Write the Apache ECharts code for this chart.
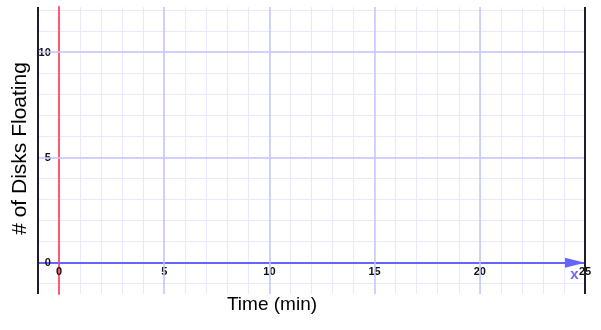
<!DOCTYPE html>
<html>
<head>
<meta charset="utf-8">
<script src="https://cdn.jsdelivr.net/npm/echarts@6/dist/echarts.min.js"></script>
<style>html,body{margin:0;padding:0;background:#fff}#c{width:601px;height:330px}</style>
</head>
<body>
<div id="c"></div>
<script>
// Data
const xRange = [-1, 25];          // time (min)
const yRangeOuter = [-1.5, 12.15]; // full plot frame
const yRangeGrid = [-1, 12];       // grid lines
const xLabelValues = [0, 5, 10, 15, 20, 25];
const yLabelValues = [0, 5, 10];
const xMajorLines = [5, 10, 15, 20];
const yMajorLines = [5, 10];
const seriesPoints = []; // no data plotted
const axisMarker = [[24.5, -0.6]]; // blue "x" marker
const xTitle = 'Time (min)';
const yTitle = '# of Disks Floating';

const minor = '#e8e8ff', major = '#c4c4ff';
const chart = echarts.init(document.getElementById('c'), null, {renderer: 'canvas'});
chart.setOption({
  animation: false,
  backgroundColor: '#fff',
  textStyle: {fontFamily: 'Liberation Sans, Arial, sans-serif'},
  grid: [
    {left: 38, right: 16, top: 7, bottom: 36, containLabel: false, outerBoundsMode: 'none'},
    {left: 38, right: 16, top: 10.7, bottom: 46.3, containLabel: false, outerBoundsMode: 'none'}
  ],
  xAxis: [
    {
      gridIndex: 0, type: 'value', min: xRange[0], max: xRange[1], interval: 1,
      position: 'bottom', offset: -31.3,
      axisLine: {show: true, onZero: false, symbol: ['none', 'triangle'], symbolSize: [10, 20], symbolOffset: [0, -10],
        lineStyle: {color: '#6464ff', width: 2}},
      axisTick: {show: false},
      axisLabel: {show: true, margin: 4, fontSize: 11, fontWeight: 'bold', color: '#111',
        formatter: v => xLabelValues.includes(v) ? String(v) : ''},
      splitLine: {show: true, lineStyle: {color: minor, width: 1}},
      name: xTitle, nameLocation: 'middle', nameGap: 33, nameMoveOverlap: false,
      nameTextStyle: {fontSize: 19, color: '#000', padding: [0, 79, 0, 0]}
    },
    {gridIndex: 1, type: 'value', min: xRange[0], max: xRange[1], show: false,
      axisLine: {show: false}, axisLabel: {show: false}, axisTick: {show: false}, splitLine: {show: false}}
  ],
  yAxis: [
    {
      gridIndex: 0, type: 'value', min: yRangeOuter[0], max: yRangeOuter[1],
      position: 'left', offset: -20.8,
      axisLine: {show: true, onZero: false, lineStyle: {color: '#ff5a6e', width: 2}},
      axisTick: {show: false}, axisLabel: {show: false}, splitLine: {show: false},
      name: yTitle, nameLocation: 'middle', nameGap: 28, nameRotate: 90, nameMoveOverlap: false,
      nameTextStyle: {fontSize: 21, color: '#000', padding: [0, 0, 0, 4]}
    },
    {
      gridIndex: 1, type: 'value', min: yRangeGrid[0], max: yRangeGrid[1], interval: 1,
      position: 'left', offset: -20.8,
      axisLine: {show: false}, axisTick: {show: false},
      axisLabel: {show: true, margin: 8, fontSize: 11, fontWeight: 'bold', color: '#111',
        formatter: v => yLabelValues.includes(v) ? String(v) : ''},
      splitLine: {show: true, lineStyle: {color: minor, width: 1}}
    }
  ],
  series: [
    {
      type: 'line', xAxisIndex: 0, yAxisIndex: 0, data: [], z: 1,
      markLine: {
        silent: true, symbol: 'none', label: {show: false}, z: 1,
        lineStyle: {color: major, width: 1.5, type: 'solid'},
        data: xMajorLines.map(v => ({xAxis: v})).concat(yMajorLines.map(v => ({yAxis: v})))
      }
    },
    {
      type: 'scatter', xAxisIndex: 0, yAxisIndex: 0, data: axisMarker, symbolSize: 0,
      label: {show: true, formatter: 'x', position: 'inside', color: '#4444ee', fontSize: 15, fontWeight: 'bold'},
      markLine: {
        silent: true, symbol: 'none', label: {show: false},
        lineStyle: {color: '#1c1c2c', width: 2, type: 'solid'},
        data: [{xAxis: xRange[0]}, {xAxis: xRange[1]}]
      },
      z: 5
    },
    {type: 'line', xAxisIndex: 1, yAxisIndex: 1, data: seriesPoints}
  ]
});
</script>
</body>
</html>
